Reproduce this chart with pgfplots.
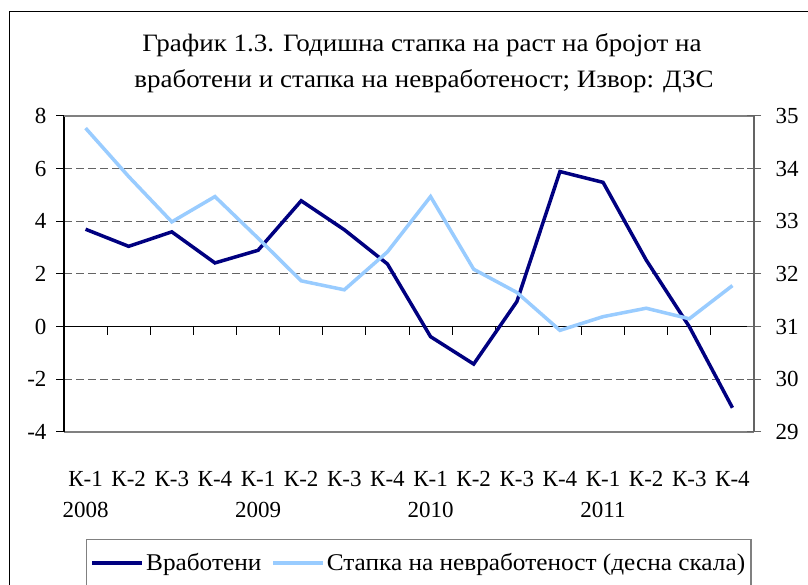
\documentclass[border=0pt]{standalone}
\usepackage{fontspec}
\setmainfont{Liberation Serif}
\newfontfamily\titlefont[FakeStretch=1.08]{Liberation Serif}
\newfontfamily\legfont[FakeStretch=1.053]{Liberation Serif}
\usepackage{pgfplots}
\pgfplotsset{compat=1.18}
\definecolor{darkser}{RGB}{0,0,128}
\definecolor{lightser}{RGB}{153,204,255}
\definecolor{gridc}{RGB}{100,100,100}
\begin{document}
\begin{tikzpicture}
\useasboundingbox (0pt,0pt) rectangle (808pt,585pt);
\clip (0pt,0pt) rectangle (808pt,585pt);
\fill[white] (0pt,0pt) rectangle (808pt,585pt);
\draw[line width=1.3pt] (9.5pt,-20pt) -- (9.5pt,573.5pt) -- (830pt,573.5pt);
\node[anchor=base, font=\titlefont\fontsize{25}{30}\selectfont] at (422pt,533.3pt) {График 1.3. Годишна стапка на раст на бројот на};
\node[anchor=base, font=\titlefont\fontsize{25}{30}\selectfont] at (424pt,497pt) {вработени и стапка на невработеност; Извор: ДЗС};

% zero line with boundary ticks
\begin{axis}[at={(64pt,153pt)}, anchor=south west, scale only axis, width=690pt, height=316pt,
  xmin=0.5, xmax=16.5, ymin=-4, ymax=8,
  axis x line=middle, axis y line=none,
  xtick={0.5,1.5,...,16.5}, xticklabels={},
  axis line style={-, black, line width=1.2pt},
  tick style={black, line width=1pt}, major tick length=8pt, tick align=outside]
\end{axis}

% left axis
\begin{axis}[at={(64pt,153pt)}, anchor=south west, scale only axis, width=690pt, height=316pt,
  xmin=0.5, xmax=16.5, ymin=-4, ymax=8,
  axis x line*=bottom, axis y line*=left,
  x axis line style={gray, line width=1.8pt},
  y axis line style={black, line width=1.3pt},
  ytick={-4,-2,2,4,6,8}, extra y ticks={0}, extra y tick style={ymajorgrids=false},
  ymajorgrids, grid style={dash pattern=on 7.5pt off 4.5pt, gridc, line width=1pt},
  y tick style={black, line width=1pt}, major tick length=8pt, tick align=outside,
  /pgf/number format/assume math mode=true,
  yticklabel style={font=\fontsize{23}{28}\selectfont, xshift=-6pt},
  xtick={1,...,16},
  xticklabels={{К-1\\2008},К-2,К-3,К-4,{К-1\\2009},К-2,К-3,К-4,{К-1\\2010},К-2,К-3,К-4,{К-1\\2011},К-2,К-3,К-4},
  x tick style={draw=none},
  xticklabel style={align=center, anchor=north, font=\fontsize{23}{31}\selectfont, yshift=-28pt},
  after end axis/.code={\draw[gray, line width=1.5pt] (rel axis cs:0,1) -- (rel axis cs:1,1);}
]
\addplot[darkser, line width=3.5pt] coordinates {
(1,3.70) (2,3.05) (3,3.60) (4,2.42) (5,2.90) (6,4.78) (7,3.68) (8,2.38)
(9,-0.38) (10,-1.42) (11,0.95) (12,5.89) (13,5.48) (14,2.53) (15,0.00) (16,-3.08)};
\end{axis}

% right axis
\begin{axis}[at={(64pt,153pt)}, anchor=south west, scale only axis, width=690pt, height=316pt,
  xmin=0.5, xmax=16.5, ymin=29, ymax=35,
  axis x line=none, axis y line*=right,
  y axis line style={gridc, line width=1.3pt},
  ytick={29,...,35},
  y tick style={gridc, line width=1pt}, major tick length=14pt, tick align=center,
  /pgf/number format/assume math mode=true,
  yticklabel style={font=\fontsize{23}{28}\selectfont, xshift=11pt},
  legend columns=2,
  legend style={at={(0.0319,-0.3386)}, anchor=north west, draw=gray, line width=1.3pt,
    font=\legfont\fontsize{24}{28}\selectfont, inner xsep=4pt, inner ysep=12pt,
    nodes={inner sep=2pt},
    /tikz/every even column/.append style={column sep=8pt}},
  legend image code/.code={\draw[#1] (0pt,0pt) -- (50pt,0pt);}
]
\addlegendimage{darkser, line width=3.5pt}
\addlegendentry{Вработени}
\addplot[lightser, line width=3.5pt] coordinates {
(1,34.77) (2,33.85) (3,32.99) (4,33.47) (5,32.68) (6,31.87) (7,31.70) (8,32.42)
(9,33.47) (10,32.09) (11,31.65) (12,30.93) (13,31.19) (14,31.35) (15,31.15) (16,31.78)};
\addlegendentry{Стапка на невработеност (десна скала)}
\end{axis}
\end{tikzpicture}
\end{document}
